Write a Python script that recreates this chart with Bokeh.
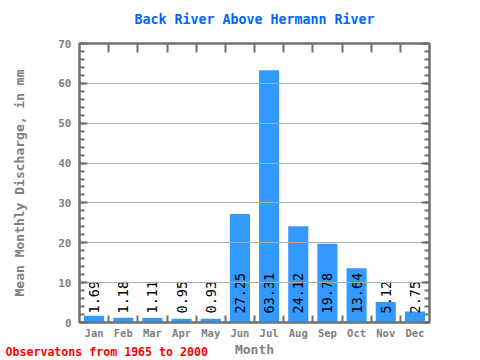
import numpy as np
from bokeh.plotting import figure
from bokeh.models import (Range1d, LinearAxis, FixedTicker, SingleIntervalTicker, Title,
                          ColumnDataSource, CustomJSTickFormatter)
from bokeh.core.properties import value
from bokeh.embed import file_html
from bokeh.resources import INLINE

# ---- data ----
months = ["Jan", "Feb", "Mar", "Apr", "May", "Jun", "Jul", "Aug", "Sep", "Oct", "Nov", "Dec"]
discharge = [1.69, 1.18, 1.11, 0.95, 0.93, 27.25, 63.31, 24.12, 19.78, 13.64, 5.12, 2.75]
y_min, y_max, y_step = 0, 70, 10

title_text = "Back River Above Hermann River"
x_label = "Month"
y_label = "Mean Monthly Discharge, in mm"
footer_text = "Observatons from 1965 to 2000"

# ---- style ----
FONT = "DejaVu Sans Mono"
AXIS_GRAY = "#707070"
LABEL_GRAY = "#808080"
GRID_GRAY = "#aaaaaa"
BAR_BLUE = "#3399ff"
TITLE_BLUE = "#0066ff"

n = len(months)
centers = [i + 0.5 for i in range(n)]
edges = list(range(1, n))
grid_ticks = list(range(y_min + y_step, y_max, y_step))

src = ColumnDataSource(dict(x=centers, top=discharge, base=[0] * n,
                            label=[f"{v:.2f}" for v in discharge]))

p = figure(width=480, height=360, x_range=Range1d(0, n), y_range=Range1d(y_min, y_max),
           output_backend="svg", toolbar_location=None,
           min_border_left=79, min_border_right=51, min_border_top=43, min_border_bottom=38)
p.outline_line_color = AXIS_GRAY
p.outline_line_width = 2

p.vbar(x="x", top="top", bottom="base", width=0.69, source=src,
       fill_color=BAR_BLUE, line_color=None)
p.text(x="x", y="base", text="label", source=src, angle=np.pi / 2,
       text_align="left", text_baseline="middle", y_offset=-9, x_offset=0,
       text_font=value(FONT), text_font_size="13.5px", text_color="black")

# grid (drawn over the bars, as in the reference)
p.xgrid.visible = False
p.ygrid.ticker = FixedTicker(ticks=grid_ticks)
p.ygrid.grid_line_color = GRID_GRAY
p.ygrid.grid_line_width = 1
p.ygrid.level = "glyph"

blank = CustomJSTickFormatter(code="return ''")


def style_axis(ax):
    ax.axis_line_color = AXIS_GRAY
    ax.axis_line_width = 2
    ax.major_tick_line_color = AXIS_GRAY
    ax.major_tick_line_width = 2
    ax.minor_tick_line_color = AXIS_GRAY
    ax.minor_tick_line_width = 2
    ax.major_tick_out = 0
    ax.minor_tick_out = 0
    ax.major_label_text_font = FONT
    ax.major_label_text_font_size = "11px"
    ax.major_label_text_font_style = "bold"
    ax.major_label_text_color = LABEL_GRAY
    ax.axis_label_text_font = FONT
    ax.axis_label_text_font_size = "13px"
    ax.axis_label_text_font_style = "bold"
    ax.axis_label_text_color = LABEL_GRAY


# bottom x axis: labels at centres, ticks at boundaries
xa = p.xaxis[0]
style_axis(xa)
xa.ticker = FixedTicker(ticks=centers, minor_ticks=edges)
xa.major_label_overrides = {c: m for c, m in zip(centers, months)}
xa.major_label_text_font_size = "10.5px"
xa.major_tick_in = 0
xa.minor_tick_in = 7
xa.major_label_standoff = 4
xa.axis_label = x_label
xa.axis_label_standoff = 0

# left y axis
ya = p.yaxis[0]
style_axis(ya)
ya.ticker = SingleIntervalTicker(interval=y_step, num_minor_ticks=5)
ya.major_tick_in = 8
ya.minor_tick_in = 5
ya.major_label_standoff = 8
ya.axis_label = y_label
ya.axis_label_standoff = 28

# right y axis (ticks only)
ra = LinearAxis(ticker=SingleIntervalTicker(interval=y_step, num_minor_ticks=5), formatter=blank)
style_axis(ra)
ra.major_tick_in = 8
ra.minor_tick_in = 5
ra.major_label_standoff = 0
p.add_layout(ra, "right")

# top x axis (boundary ticks only), carrying the chart title
ta = LinearAxis(ticker=FixedTicker(ticks=[], minor_ticks=edges), formatter=blank)
style_axis(ta)
ta.major_tick_in = 0
ta.minor_tick_in = 9
ta.major_label_standoff = 0
ta.axis_label = title_text
ta.axis_label_text_color = TITLE_BLUE
ta.axis_label_text_font_size = "13.3px"
ta.axis_label_standoff = 17
p.add_layout(ta, "above")

# footer note, placed under the x axis at the far left
p.add_layout(Title(text=footer_text, align="left", vertical_align="top", offset=-74, standoff=-29,
                   text_font=FONT, text_font_size="11.6px", text_font_style="bold",
                   text_color="red"), "below")

open("out.html", "w").write(file_html(p, INLINE))
